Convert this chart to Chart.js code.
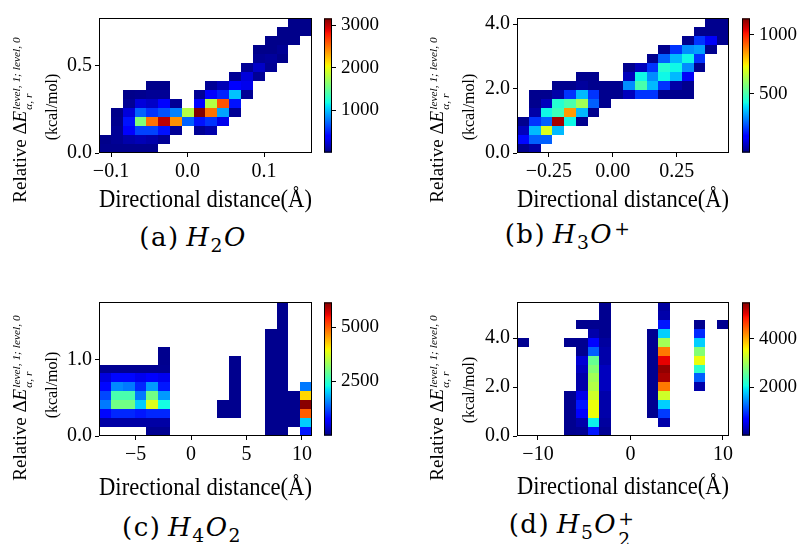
<!DOCTYPE html>
<html>
<head>
<meta charset="utf-8">
<script src="https://cdn.jsdelivr.net/npm/chart.js@4.4.1/dist/chart.umd.min.js"></script>
<style>
  body { margin: 0; background: #fff; }
  #fig { position: relative; width: 799px; height: 544px; overflow: hidden; font-family: 'Liberation Serif', serif; color: #000; }
  canvas { position: absolute; }
  .ylab { position: absolute; white-space: nowrap; transform: translate(-50%, -50%) rotate(-90deg); line-height: 1; }
  .l1 { font-size: 19px; }
  .l2 { font-size: 16px; }
  .ss { display: inline-flex; flex-direction: column; font-size: 0.6em; line-height: 1.05; vertical-align: 0.5em; margin-left: 1px; }
  .cap { position: absolute; white-space: nowrap; transform: translate(-50%, -50%); font-family: 'DejaVu Serif', serif; font-size: 26px; line-height: 1; letter-spacing: 1.5px; }
  .cap sub { font-size: 0.72em; vertical-align: -0.3em; }
  .cap .ss { font-size: 0.72em; vertical-align: 0.4em; line-height: 1.1; }
</style>
</head>
<body>
<div id="fig">
  <canvas id="mainA"></canvas><canvas id="cbA"></canvas>
  <canvas id="mainB"></canvas><canvas id="cbB"></canvas>
  <canvas id="mainC"></canvas><canvas id="cbC"></canvas>
  <canvas id="mainD"></canvas><canvas id="cbD"></canvas>

  <div class="ylab l1" style="left:23px;top:120px">Relative Δ<i>E</i><span class="ss"><i>level, 1; level, 0</i><i>α, r</i></span></div>
  <div class="ylab l2" style="left:52px;top:107px">(kcal/mol)</div>
  <div class="ylab l1" style="left:440px;top:120px">Relative Δ<i>E</i><span class="ss"><i>level, 1; level, 0</i><i>α, r</i></span></div>
  <div class="ylab l2" style="left:469px;top:107px">(kcal/mol)</div>
  <div class="ylab l1" style="left:23px;top:398px">Relative Δ<i>E</i><span class="ss"><i>level, 1; level, 0</i><i>α, r</i></span></div>
  <div class="ylab l2" style="left:52px;top:385px">(kcal/mol)</div>
  <div class="ylab l1" style="left:440px;top:398px">Relative Δ<i>E</i><span class="ss"><i>level, 1; level, 0</i><i>α, r</i></span></div>
  <div class="ylab l2" style="left:469px;top:390px">(kcal/mol)</div>

  <div class="cap" style="left:193px;top:240px">(a)&#8201;<i>H</i><sub>2</sub><i>O</i></div>
  <div class="cap" style="left:568px;top:240px">(b)&#8201;<i>H</i><sub>3</sub><i>O</i><span class="ss"><span>+</span><span>&nbsp;</span></span></div>
  <div class="cap" style="left:182px;top:530px">(c)&#8201;<i>H</i><sub>4</sub><i>O</i><sub>2</sub></div>
  <div class="cap" style="left:572px;top:530px">(d)&#8201;<i>H</i><sub>5</sub><i>O</i><span class="ss"><span>+</span><span>2</span></span></div>
</div>
<script>
Chart.defaults.font.family = 'Liberation Serif';
Chart.defaults.color = '#000';

// (a) H2O
const h2oX = [-0.1157, 0.1627];
const h2oY = [0, 0.773];
const h2oXTicks = [-0.1, 0, 0.1];
const h2oXLabels = ['\u22120.1', '0.0', '0.1'];
const h2oYTicks = [0, 0.5];
const h2oYLabels = ['0.0', '0.5'];
const h2oRange = [1, 3163];
const h2oCbTicks = [1000, 2000, 3000];
// rows listed from top to bottom, 18 bins each
const h2oCounts = [
  [0,0,0,0,0,0,0,0,0,0,0,0,0,0,0,0,30,30],
  [0,0,0,0,0,0,0,0,0,0,0,0,0,0,0,30,30,30],
  [0,0,0,0,0,0,0,0,0,0,0,0,0,0,30,30,30,0],
  [0,0,0,0,0,0,0,0,0,0,0,0,0,30,30,60,0,0],
  [0,0,0,0,0,0,0,0,0,0,0,0,0,60,80,30,0,0],
  [0,0,0,0,0,0,0,0,0,0,0,0,60,200,60,0,0,0],
  [0,0,0,0,0,0,0,0,0,0,0,60,250,60,0,0,0,0],
  [0,0,0,0,30,30,0,0,0,60,150,350,300,0,0,0,0,0],
  [0,0,30,40,60,60,0,0,60,350,500,1000,60,0,0,0,0,0],
  [0,0,60,250,200,350,60,0,350,1800,2600,450,0,0,0,0,0,0],
  [0,30,250,700,550,650,800,1800,3200,2500,900,60,0,0,0,0,0,0],
  [0,40,450,1600,2500,3000,2400,700,450,550,300,0,0,0,0,0,0,0],
  [0,60,350,600,600,450,60,0,60,120,0,0,0,0,0,0,0,0],
  [30,60,120,150,120,60,0,0,0,0,0,0,0,0,0,0,0,0],
  [40,40,40,40,40,0,0,0,0,0,0,0,0,0,0,0,0,0]
];

// (b) H3O+
const h3oX = [-0.375, 0.455];
const h3oY = [0, 4.19];
const h3oXTicks = [-0.25, 0, 0.25];
const h3oXLabels = ['\u22120.25', '0.00', '0.25'];
const h3oYTicks = [0, 2, 4];
const h3oYLabels = ['0.0', '2.0', '4.0'];
const h3oRange = [1, 1137];
const h3oCbTicks = [500, 1000];
const h3oCounts = [
  [0,0,0,0,0,0,0,0,0,0,0,0,0,0,0,0,15,15],
  [0,0,0,0,0,0,0,0,0,0,0,0,0,0,0,15,15,15],
  [0,0,0,0,0,0,0,0,0,0,0,0,0,0,15,200,120,15],
  [0,0,0,0,0,0,0,0,0,0,0,0,15,200,300,320,15,0],
  [0,0,0,0,0,0,0,0,0,0,0,15,250,350,420,200,0,0],
  [0,0,0,0,0,0,0,0,0,15,60,200,450,420,300,15,0,0],
  [0,0,0,0,0,15,15,0,0,60,420,300,420,350,120,0,0,0],
  [0,0,0,15,15,30,15,15,15,300,500,350,200,40,15,0,0,0],
  [0,15,15,40,200,350,200,15,15,60,200,200,15,15,15,0,0,0],
  [0,15,60,450,500,620,250,15,0,0,0,0,0,0,0,0,0,0],
  [0,40,420,480,850,350,15,0,0,0,0,0,0,0,0,0,0,0],
  [15,200,250,1100,420,15,0,0,0,0,0,0,0,0,0,0,0,0],
  [60,350,700,350,0,0,0,0,0,0,0,0,0,0,0,0,0,0],
  [150,250,250,0,0,0,0,0,0,0,0,0,0,0,0,0,0,0],
  [15,40,0,0,0,0,0,0,0,0,0,0,0,0,0,0,0,0]
];

// (c) H4O2
const h4o2X = [-8.31, 10.91];
const h4o2Y = [0, 1.746];
const h4o2XTicks = [-5, 0, 5, 10];
const h4o2XLabels = ['\u22125', '0', '5', '10'];
const h4o2YTicks = [0, 1];
const h4o2YLabels = ['0.0', '1.0'];
const h4o2Range = [1, 6150];
const h4o2CbTicks = [2500, 5000];
const h4o2Counts = [
  [0,0,0,0,0,0,0,0,0,0,0,0,0,0,0,80,0,0],
  [0,0,0,0,0,0,0,0,0,0,0,0,0,0,0,80,0,0],
  [0,0,0,0,0,0,0,0,0,0,0,0,0,0,0,80,0,0],
  [0,0,0,0,0,0,0,0,0,0,0,0,0,0,80,80,0,0],
  [0,0,0,0,0,0,0,0,0,0,0,0,0,0,80,80,0,0],
  [0,0,0,0,0,80,0,0,0,0,0,0,0,0,80,80,0,0],
  [0,0,0,0,0,80,0,0,0,0,0,80,0,0,80,80,0,0],
  [100,100,100,100,100,100,0,0,0,0,0,80,0,0,80,80,0,0],
  [500,800,800,600,700,600,0,0,0,0,0,80,0,0,80,80,0,0],
  [800,1600,1500,1000,1700,900,0,0,0,0,0,80,0,0,80,80,0,1500],
  [1200,2700,2700,1500,3000,1700,0,0,0,0,0,80,0,0,80,80,80,4200],
  [1500,3000,3000,2000,3800,2300,0,0,0,0,80,80,0,0,80,80,80,6100],
  [800,1000,1000,900,1000,1000,0,0,0,0,80,80,0,0,80,80,80,5000],
  [200,200,200,200,200,200,0,0,0,0,0,0,0,0,80,80,80,2000],
  [0,0,0,0,100,100,0,0,0,0,0,0,0,0,80,80,0,900]
];

// (d) H5O2+
const h5o2X = [-12.27, 10.65];
const h5o2Y = [0, 5.48];
const h5o2XTicks = [-10, 0, 10];
const h5o2XLabels = ['\u221210', '0', '10'];
const h5o2YTicks = [0, 2, 4];
const h5o2YLabels = ['0.0', '2.0', '4.0'];
const h5o2Range = [1, 5490];
const h5o2CbTicks = [2000, 4000];
const h5o2Counts = [
  [0,0,0,0,0,0,0,80,0,0,0,0,150,0,0,0,0,0],
  [0,0,0,0,0,0,0,80,0,0,0,0,200,0,0,0,0,0],
  [0,0,0,0,0,80,80,80,0,0,0,0,800,0,0,80,0,80],
  [0,0,0,0,0,0,200,80,0,0,0,80,1800,0,0,900,0,0],
  [80,0,0,0,80,80,700,150,0,0,0,80,3000,0,0,1800,0,0],
  [0,0,0,0,0,80,1200,200,0,0,0,80,4300,0,0,2800,0,0],
  [0,0,0,0,0,400,2600,200,0,0,0,80,5000,0,0,3500,0,0],
  [0,0,0,0,0,300,2800,300,0,0,0,80,5400,0,0,2200,0,0],
  [0,0,0,0,0,200,3000,300,0,0,0,80,5300,0,0,1200,0,0],
  [0,0,0,0,0,200,3100,300,0,0,0,80,4300,0,0,200,0,0],
  [0,0,0,0,80,500,3300,200,0,0,0,80,3300,0,0,0,0,0],
  [0,0,0,0,80,800,3500,200,0,0,0,80,1800,0,0,0,0,0],
  [0,0,0,0,80,600,3500,200,0,0,0,80,1000,0,0,0,0,0],
  [0,0,0,0,80,200,2000,150,0,0,0,0,200,0,0,0,0,0],
  [0,0,0,0,80,100,800,100,0,0,0,0,0,0,0,0,0,0]
];

function jet(t) {
  t = Math.min(1, Math.max(0, t));
  const seg = pts => {
    for (let i = 1; i < pts.length; i++) {
      if (t <= pts[i][0]) {
        const [x0, y0] = pts[i - 1], [x1, y1] = pts[i];
        return y0 + (y1 - y0) * (t - x0) / (x1 - x0);
      }
    }
    return pts[pts.length - 1][1];
  };
  const r = seg([[0, 0], [0.35, 0], [0.66, 1], [0.89, 1], [1, 0.5]]);
  const g = seg([[0, 0], [0.125, 0], [0.375, 1], [0.64, 1], [0.91, 0], [1, 0]]);
  const b = seg([[0, 0.5], [0.11, 1], [0.34, 1], [0.65, 0], [1, 0]]);
  return 'rgb(' + Math.round(r * 255) + ',' + Math.round(g * 255) + ',' + Math.round(b * 255) + ')';
}

// draws each histogram cell from the dataset through the x/y scales
const heatCells = {
  id: 'heatCells',
  beforeDatasetsDraw(chart, args, opts) {
    const {ctx, scales: {x, y}} = chart;
    const {dx, dy, vmin, vmax} = opts;
    ctx.save();
    chart.data.datasets[0].data.forEach(c => {
      const x0 = Math.round(x.getPixelForValue(c.x - dx / 2));
      const x1 = Math.round(x.getPixelForValue(c.x + dx / 2));
      const y0 = Math.round(y.getPixelForValue(c.y + dy / 2));
      const y1 = Math.round(y.getPixelForValue(c.y - dy / 2));
      ctx.fillStyle = jet((c.v - vmin) / (vmax - vmin));
      ctx.fillRect(x0, y0, x1 - x0, y1 - y0);
    });
    ctx.restore();
  }
};

const cbFill = {
  id: 'cbFill',
  beforeDatasetsDraw(chart) {
    const {ctx, chartArea: a, scales: {y}} = chart;
    const g = ctx.createLinearGradient(0, y.getPixelForValue(y.min), 0, y.getPixelForValue(y.max));
    for (let i = 0; i <= 64; i++) g.addColorStop(i / 64, jet(i / 64));
    ctx.save();
    ctx.fillStyle = g;
    ctx.fillRect(a.left, a.top, a.right - a.left, a.bottom - a.top);
    ctx.restore();
  }
};

const frame = {
  id: 'frame',
  afterDraw(chart) {
    const {ctx, chartArea: a} = chart;
    ctx.save();
    ctx.strokeStyle = '#000';
    ctx.lineWidth = 1;
    ctx.strokeRect(a.left + 0.5, a.top + 0.5, a.right - a.left - 1, a.bottom - a.top - 1);
    ctx.restore();
  }
};

function tickAxis(values, labels, size) {
  return {
    afterBuildTicks: axis => { axis.ticks = values.map(v => ({value: v})); },
    ticks: {
      callback: v => labels[values.indexOf(v)],
      font: {size: size},
      color: '#000',
      padding: 3,
      maxRotation: 0,
      autoSkip: false
    },
    grid: {drawOnChartArea: false, color: '#000', tickLength: 4, tickWidth: 1},
    border: {display: false}
  };
}

const TITLE_SIZE = 25;

function makePanel(p) {
  const nr = p.counts.length, nc = p.counts[0].length;
  const dx = (p.xRange[1] - p.xRange[0]) / nc;
  const dy = (p.yRange[1] - p.yRange[0]) / nr;
  const cells = [];
  p.counts.forEach((row, k) => {
    const r = nr - 1 - k;
    row.forEach((v, c) => {
      if (v > 0) cells.push({x: p.xRange[0] + (c + 0.5) * dx, y: p.yRange[0] + (r + 0.5) * dy, v: v});
    });
  });

  const box = p.box;
  const plotH = box.b - box.t;
  const main = document.getElementById(p.mainId);
  const W = box.r - box.l + 100, H = Math.round(p.titleY + TITLE_SIZE * 0.6 - (box.t - 16));
  main.width = W; main.height = H;
  main.style.left = (box.l - 90) + 'px';
  main.style.top = (box.t - 16) + 'px';

  const xAxis = tickAxis(p.xTicks, p.xLabels, 20);
  Object.assign(xAxis, {
    type: 'linear', min: p.xRange[0], max: p.xRange[1],
    afterFit: axis => { axis.height = H - 16 - plotH; },
    title: {display: true, text: 'Directional distance(\u00c5)', font: {size: TITLE_SIZE}, color: '#000', padding: 0}
  });
  const yAxis = tickAxis(p.yTicks, p.yLabels, 20);
  Object.assign(yAxis, {
    type: 'linear', min: p.yRange[0], max: p.yRange[1],
    afterFit: axis => { axis.width = 90; }
  });

  new Chart(main, {
    type: 'scatter',
    data: {datasets: [{data: cells, pointRadius: 0, pointHoverRadius: 0}]},
    options: {
      responsive: false, animation: false, events: [],
      layout: {padding: {top: 16, right: 10, left: 0, bottom: 0}},
      plugins: {legend: {display: false}, tooltip: {enabled: false},
        heatCells: {dx: dx, dy: dy, vmin: p.range[0], vmax: p.range[1]}},
      scales: {x: xAxis, y: yAxis}
    },
    plugins: [heatCells, frame]
  });

  const cb = document.getElementById(p.cbId);
  const cw = 80, cbw = p.cbox.r - p.cbox.l;
  cb.width = cw; cb.height = plotH + 32;
  cb.style.left = (p.cbox.l - 4) + 'px';
  cb.style.top = (box.t - 16) + 'px';
  const cAxis = tickAxis(p.cbTicks, p.cbTicks.map(String), 19);
  cAxis.ticks.padding = 5;
  Object.assign(cAxis, {
    type: 'linear', position: 'right', min: p.range[0], max: p.range[1],
    afterFit: axis => { axis.width = cw - 4 - cbw; }
  });
  new Chart(cb, {
    type: 'scatter',
    data: {datasets: [{data: []}]},
    options: {
      responsive: false, animation: false, events: [],
      layout: {padding: {top: 16, bottom: 16, left: 4, right: 0}},
      plugins: {legend: {display: false}, tooltip: {enabled: false}},
      scales: {x: {display: false, min: 0, max: 1}, y: cAxis}
    },
    plugins: [cbFill, frame]
  });
}

makePanel({mainId: 'mainA', cbId: 'cbA', box: {l: 99, r: 312, t: 18, b: 153}, cbox: {l: 324, r: 332}, titleY: 200,
  xRange: h2oX, yRange: h2oY, xTicks: h2oXTicks, xLabels: h2oXLabels, yTicks: h2oYTicks, yLabels: h2oYLabels,
  range: h2oRange, cbTicks: h2oCbTicks, counts: h2oCounts});
makePanel({mainId: 'mainB', cbId: 'cbB', box: {l: 517, r: 729, t: 18, b: 153}, cbox: {l: 742, r: 750}, titleY: 200,
  xRange: h3oX, yRange: h3oY, xTicks: h3oXTicks, xLabels: h3oXLabels, yTicks: h3oYTicks, yLabels: h3oYLabels,
  range: h3oRange, cbTicks: h3oCbTicks, counts: h3oCounts});
makePanel({mainId: 'mainC', cbId: 'cbC', box: {l: 99, r: 312, t: 302, b: 436}, cbox: {l: 324, r: 332}, titleY: 488,
  xRange: h4o2X, yRange: h4o2Y, xTicks: h4o2XTicks, xLabels: h4o2XLabels, yTicks: h4o2YTicks, yLabels: h4o2YLabels,
  range: h4o2Range, cbTicks: h4o2CbTicks, counts: h4o2Counts});
makePanel({mainId: 'mainD', cbId: 'cbD', box: {l: 517, r: 729, t: 302, b: 436}, cbox: {l: 742, r: 750}, titleY: 487,
  xRange: h5o2X, yRange: h5o2Y, xTicks: h5o2XTicks, xLabels: h5o2XLabels, yTicks: h5o2YTicks, yLabels: h5o2YLabels,
  range: h5o2Range, cbTicks: h5o2CbTicks, counts: h5o2Counts});
</script>
</body>
</html>
